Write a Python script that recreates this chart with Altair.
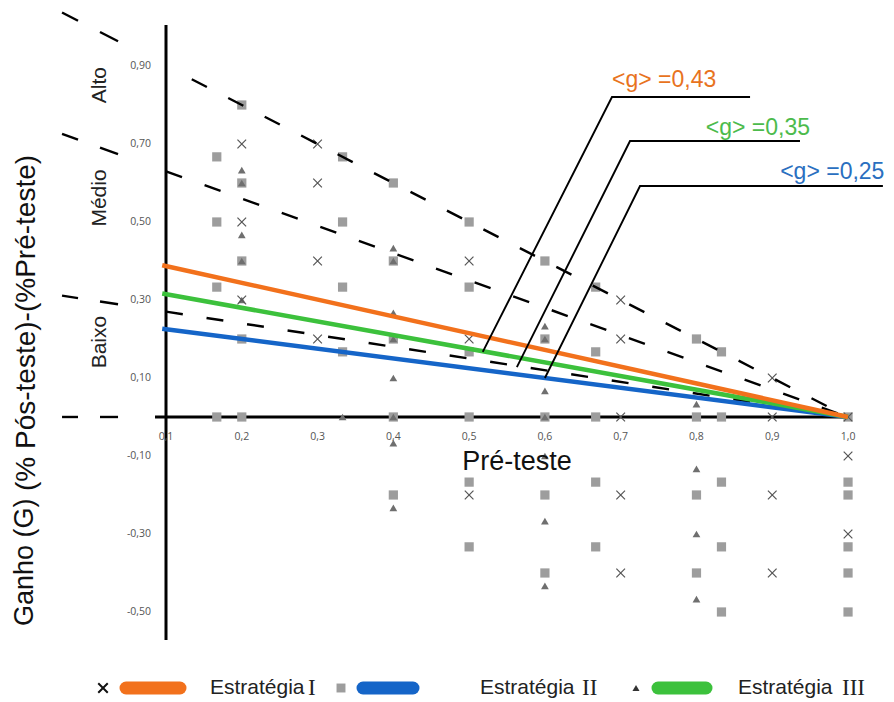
import altair as alt
import pandas as pd

# ---------------- data ----------------
x_ticks = [0.1, 0.2, 0.3, 0.4, 0.5, 0.6, 0.7, 0.8, 0.9, 1.0]
x_tick_labels = ["0,1", "0,2", "0,3", "0,4", "0,5", "0,6", "0,7", "0,8", "0,9", "1,0"]
y_ticks = [0.9, 0.7, 0.5, 0.3, 0.1, -0.1, -0.3, -0.5]
y_tick_labels = ["0,90", "0,70", "0,50", "0,30", "0,10", "-0,10", "-0,30", "-0,50"]

strategy_word = "Estratégia"
strategy_numerals = ["I", "II", "III"]
g_values = [0.43, 0.25, 0.35]            # <g> for I, II, III
g_labels = ["<g> =0,43", "<g> =0,25", "<g> =0,35"]
line_colors = ["#F2711C", "#1565C8", "#3CC13C"]
text_colors = ["#E8731E", "#2A6FC0", "#4CBB4C"]

level_k = [1.0, 0.7, 0.3]                # threshold lines G = k (1 - pre)
level_names = ["Alto", "Médio", "Baixo"]

# Estratégia I (x markers)
s1_x = [0.2, 0.3, 0.3, 0.2, 0.5, 0.3, 0.2, 0.3, 0.7, 0.5, 0.7, 0.9, 0.7, 0.9, 1.0,
        1.0, 0.5, 0.7, 0.9, 1.0, 0.7, 0.9]
s1_y = [0.70, 0.70, 0.60, 0.50, 0.40, 0.40, 0.30, 0.20, 0.30, 0.20, 0.20, 0.10, 0.0, 0.0, 0.0,
        -0.10, -0.20, -0.20, -0.20, -0.30, -0.40, -0.40]

# Estratégia II (squares)
s2_x = [0.167, 0.2, 0.333, 0.2, 0.4, 0.167, 0.333, 0.5, 0.2, 0.4, 0.6, 0.167, 0.333, 0.5, 0.667,
        0.2, 0.4, 0.6, 0.8, 0.333, 0.5, 0.667, 0.833,
        0.167, 0.2, 0.4, 0.5, 0.6, 0.667, 0.8, 0.833, 1.0,
        0.4, 0.5, 0.5, 0.667, 0.833, 1.0, 0.6, 0.8, 1.0, 0.667, 0.833, 1.0, 0.6, 0.8, 1.0, 0.833, 1.0]
s2_y = [0.667, 0.8, 0.667, 0.6, 0.6, 0.5, 0.5, 0.5, 0.4, 0.4, 0.4, 0.333, 0.333, 0.333, 0.333,
        0.2, 0.2, 0.2, 0.2, 0.167, 0.167, 0.167, 0.167,
        0.0, 0.0, 0.0, 0.0, 0.0, 0.0, 0.0, 0.0, 0.0,
        -0.2, -0.167, -0.333, -0.167, -0.167, -0.167, -0.2, -0.2, -0.2, -0.333, -0.333, -0.333,
        -0.4, -0.4, -0.4, -0.5, -0.5]

# Estratégia III (triangles)
s3_x = [0.2, 0.2, 0.2, 0.4, 0.2, 0.2, 0.4, 0.4, 0.6, 0.4, 0.6, 0.8, 0.333, 0.4, 0.6,
        0.4, 0.6, 0.4, 0.8, 0.6, 0.8, 0.6, 0.8, 0.4, 0.6]
s3_y = [0.633, 0.6, 0.467, 0.433, 0.4, 0.3, 0.267, 0.2, 0.233, 0.1, 0.067, 0.033, 0.0, 0.0, 0.0,
        -0.067, -0.1, -0.233, -0.133, -0.267, -0.3, -0.433, -0.467, 0.4, 0.2]

# leader lines from the fitted lines to their labels (data units)
lead_x = [[0.518, 0.6885, 0.8707], [0.600, 0.7255, 1.046], [0.563, 0.7123, 0.9366]]
lead_y = [[0.167, 0.8205, 0.8205], [0.100, 0.5923, 0.5923], [0.128, 0.7077, 0.7077]]

# ---------------- scales (plot area = whole chart) ----------------
W, H = 878, 686
XD = [-0.1085, 1.0501]
YD = [-0.7103, 1.0487]
xs = alt.Scale(domain=XD, nice=False, zero=False)
ys = alt.Scale(domain=YD, nice=False, zero=False)


def px2x(px):
    return XD[0] + px / W * (XD[1] - XD[0])


def py2y(py):
    return YD[1] - py / H * (YD[1] - YD[0])


def X(f="x"):
    return alt.X(f"{f}:Q", scale=xs, axis=None)


def Y(f="y"):
    return alt.Y(f"{f}:Q", scale=ys, axis=None)


layers = []

# axes lines
axes_df = pd.DataFrame({"x": [0.1, 0.0855], "x2": [0.1, 1.005],
                        "y": [1.005, 0.0], "y2": [-0.572, 0.0]})
layers.append(alt.Chart(axes_df).mark_rule(color="black", strokeWidth=3).encode(
    x=X(), x2="x2:Q", y=Y(), y2="y2:Q"))

# points
layers.append(alt.Chart(pd.DataFrame({"x": s2_x, "y": s2_y})).mark_point(
    shape="square", filled=True, color="#9d9d9d", size=85, opacity=1).encode(x=X(), y=Y()))
layers.append(alt.Chart(pd.DataFrame({"x": s3_x, "y": s3_y})).mark_point(
    shape="triangle-up", filled=True, color="#6f6f6f", size=60, opacity=1).encode(x=X(), y=Y()))
layers.append(alt.Chart(pd.DataFrame({"x": s1_x, "y": s1_y})).mark_point(
    shape="M-1,-1L1,1M-1,1L1,-1", filled=False, color="#555555", strokeWidth=1.2,
    size=75, opacity=1).encode(x=X(), y=Y()))

# dashed threshold lines
starts = [0.134, 0.1, 0.1]
rows = []
for k, s in zip(level_k, starts):
    for xv in (s, 1.0):
        rows.append({"k": k, "x": xv, "y": k * (1 - xv)})
layers.append(alt.Chart(pd.DataFrame(rows)).mark_line(
    color="black", strokeWidth=2.4, strokeDash=[17, 24]).encode(
    x=X(), y=Y(), detail="k:N"))

# short dashes left of the axis (extensions of k = 1, 0.7, 0.3, 0)
rows = []
for k in level_k + [0.0]:
    for i, (a, b) in enumerate([(-0.0372, -0.0161), (0.0129, 0.0367)]):
        for xv in (a, b):
            rows.append({"seg": f"{k}-{i}", "x": xv, "y": k * (1 - xv)})
layers.append(alt.Chart(pd.DataFrame(rows)).mark_line(
    color="black", strokeWidth=2.4).encode(x=X(), y=Y(), detail="seg:N"))

# fitted gain lines (blue, green, orange draw order)
for idx in [1, 2, 0]:
    g = g_values[idx]
    df = pd.DataFrame({"x": [0.095, 1.0], "y": [g * (1 - 0.095), 0.0]})
    layers.append(alt.Chart(df).mark_line(color=line_colors[idx], strokeWidth=4.5).encode(
        x=X(), y=Y()))

# leader lines
rows = []
for i in range(3):
    for o, (xv, yv) in enumerate(zip(lead_x[i], lead_y[i])):
        rows.append({"s": i, "o": o, "x": xv, "y": yv})
layers.append(alt.Chart(pd.DataFrame(rows)).mark_line(color="black", strokeWidth=1.9).encode(
    x=X(), y=Y(), detail="s:N", order="o:O"))

# <g> labels
lab_x = [0.6885, 1.048, 0.9498]
lab_y = [0.864, 0.628, 0.741]
lab_align = ["left", "right", "right"]
for i in range(3):
    df = pd.DataFrame({"x": [lab_x[i]], "y": [lab_y[i]], "t": [g_labels[i]]})
    layers.append(alt.Chart(df).mark_text(
        fontSize=23, font="Liberation Sans", align=lab_align[i], baseline="middle",
        color=text_colors[i]).encode(x=X(), y=Y(), text="t:N"))

# tick labels
layers.append(alt.Chart(pd.DataFrame({"x": x_ticks, "y": [-0.0513] * len(x_ticks),
                                      "t": x_tick_labels})).mark_text(
    fontSize=10.5, font="Open Sans", color="#555555", baseline="middle").encode(
    x=X(), y=Y(), text="t:N"))
layers.append(alt.Chart(pd.DataFrame({"x": [0.0802] * len(y_ticks), "y": y_ticks,
                                      "t": y_tick_labels})).mark_text(
    fontSize=10.5, font="Open Sans", color="#555555", baseline="middle", align="right").encode(
    x=X(), y=Y(), text="t:N"))

# level names
layers.append(alt.Chart(pd.DataFrame({"x": [0.0129] * 3, "y": [0.851, 0.5615, 0.192],
                                      "t": level_names})).mark_text(
    fontSize=21, font="Liberation Sans", angle=270, align="center", baseline="middle",
    color="#222222").encode(x=X(), y=Y(), text="t:N"))

# axis titles
layers.append(alt.Chart(pd.DataFrame({"x": [0.5632], "y": [-0.1154],
                                      "t": ["Pré-teste"]})).mark_text(
    fontSize=27, font="Liberation Sans", color="#111111", baseline="middle").encode(
    x=X(), y=Y(), text="t:N"))
layers.append(alt.Chart(pd.DataFrame({"x": [px2x(17)], "y": [py2y(618)],
                                      "t": ["Ganho (G)"]})).mark_text(
    fontSize=27, font="Liberation Sans", color="#111111", angle=270, align="left",
    baseline="middle").encode(x=X(), y=Y(), text="t:N"))
layers.append(alt.Chart(pd.DataFrame({"x": [px2x(19)], "y": [py2y(483)],
                                      "t": ["(% Pós-teste)-(%Pré-teste)"]})).mark_text(
    fontSize=28, font="Liberation Sans", color="#111111", angle=270, align="left",
    baseline="middle").encode(x=X(), y=Y(), text="t:N"))

# legend (bottom), positions in pixels converted to data units
LY = py2y(680)
sym_x = [95, 333, 628]
bar_x = [(118, 172), (355, 405), (650, 698)]
txt_x = [202, 472, 730]
layers.append(alt.Chart(pd.DataFrame({"x": [px2x(sym_x[0])], "y": [LY]})).mark_point(
    shape="M-1,-1L1,1M-1,1L1,-1", filled=False, color="#111111", strokeWidth=2, size=90,
    opacity=1).encode(x=X(), y=Y()))
layers.append(alt.Chart(pd.DataFrame({"x": [px2x(sym_x[1])], "y": [LY]})).mark_point(
    shape="square", filled=True, color="#9d9d9d", size=80, opacity=1).encode(x=X(), y=Y()))
layers.append(alt.Chart(pd.DataFrame({"x": [px2x(sym_x[2])], "y": [LY]})).mark_point(
    shape="triangle-up", filled=True, color="#333333", size=50, opacity=1).encode(
    x=X(), y=Y()))
word_w = [98, 102, 104]   # pixel advance of "Estratégia " before each numeral
for i in range(3):
    df = pd.DataFrame({"x": [px2x(bar_x[i][0])], "x2": [px2x(bar_x[i][1])], "y": [LY]})
    layers.append(alt.Chart(df).mark_rule(
        color=line_colors[i], strokeWidth=13, strokeCap="round").encode(
        x=X(), x2="x2:Q", y=Y()))
    df = pd.DataFrame({"x": [px2x(txt_x[i])], "y": [LY], "t": [strategy_word]})
    layers.append(alt.Chart(df).mark_text(
        fontSize=21, font="Liberation Sans", color="#222222", align="left",
        baseline="middle").encode(x=X(), y=Y(), text="t:N"))
    df = pd.DataFrame({"x": [px2x(txt_x[i] + word_w[i])], "y": [LY],
                       "t": [strategy_numerals[i]]})
    layers.append(alt.Chart(df).mark_text(
        fontSize=23, font="Liberation Serif", color="#222222", align="left",
        baseline="middle").encode(x=X(), y=Y(), text="t:N"))

chart = alt.layer(*layers).properties(
    width=W, height=H, background="white",
    padding={"left": 0, "top": 0, "right": 0, "bottom": 7},
    autosize=alt.AutoSizeParams(type="none")
).configure_view(stroke=None)

chart.save("out.html", embed_options={"renderer": "svg", "actions": False})
